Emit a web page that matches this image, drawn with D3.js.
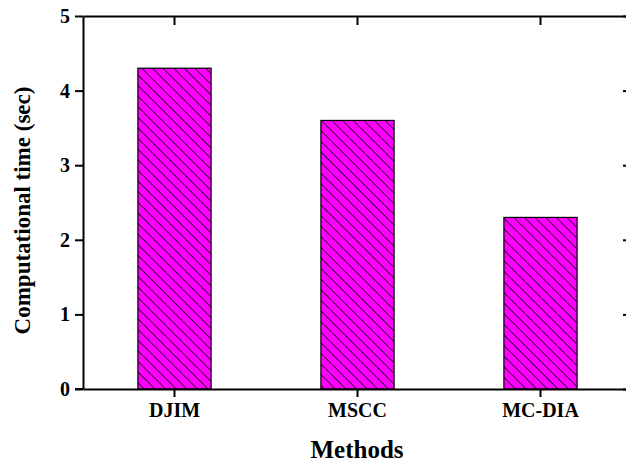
<!DOCTYPE html>
<html><head><meta charset="utf-8">
<script src="https://cdn.jsdelivr.net/npm/d3@7/dist/d3.min.js"></script>
<style>body{margin:0;background:#fff}svg{display:block}</style>
</head><body>
<script>
const categories = ["DJIM", "MSCC", "MC-DIA"];
const values = [4.3, 3.6, 2.3];
const yTicks = [0, 1, 2, 3, 4, 5];
const xTitle = "Methods";
const yTitle = "Computational time (sec)";

const W = 626, H = 465;
const m = {left: 83, top: 16, right: 632, bottom: 389};
const svg = d3.select("body").append("svg").attr("width", W).attr("height", H);

const defs = svg.append("defs");
const pat = defs.append("pattern").attr("id", "hatch").attr("patternUnits", "userSpaceOnUse")
  .attr("width", 7.5).attr("height", 7.5).attr("patternTransform", "rotate(45)");
pat.append("rect").attr("width", 7.5).attr("height", 7.5).attr("fill", "#ff00ff");
pat.append("line").attr("x1", 0).attr("y1", 0).attr("x2", 7.5).attr("y2", 0).attr("stroke", "#000").attr("stroke-width", 1.5);

const x = d3.scaleBand().domain(categories).range([m.left, m.right]).paddingInner(0.6).paddingOuter(0.3);
const y = d3.scaleLinear().domain([0, 5]).range([m.bottom, m.top]);

svg.selectAll("rect.bar").data(categories).enter().append("rect").attr("class", "bar")
  .attr("x", d => x(d)).attr("width", x.bandwidth())
  .attr("y", (d, i) => y(values[i])).attr("height", (d, i) => y(0) - y(values[i]))
  .attr("fill", "url(#hatch)").attr("stroke", "#000").attr("stroke-width", 1.2);

const font = "'Liberation Serif','Times New Roman',serif";
const style = g => {
  g.selectAll("path.domain").attr("stroke", "#000").attr("stroke-width", 2);
  g.selectAll(".tick line").attr("stroke", "#000").attr("stroke-width", 2);
  g.selectAll("text").attr("font-family", font).attr("font-weight", "bold").attr("font-size", 20).attr("fill", "#000");
};

svg.append("g").attr("transform", `translate(${m.left},0)`)
  .call(d3.axisLeft(y).tickValues(yTicks).tickFormat(d3.format("d")).tickSize(8).tickSizeOuter(0).tickPadding(5)).call(style);
svg.append("g").attr("transform", `translate(${m.right},0)`)
  .call(d3.axisRight(y).tickValues(yTicks).tickSize(-9).tickSizeOuter(0).tickFormat("")).call(style);
svg.append("g").attr("transform", `translate(0,${m.bottom})`)
  .call(d3.axisBottom(x).tickSize(8).tickSizeOuter(0).tickPadding(6)).call(style);
svg.append("g").attr("transform", `translate(0,${m.top})`)
  .call(d3.axisTop(x).tickSize(-9).tickSizeOuter(0).tickFormat("")).call(style);
svg.append("line").attr("x1", m.left - 8).attr("x2", m.left).attr("y1", m.bottom).attr("y2", m.bottom).attr("stroke", "#000").attr("stroke-width", 2);

svg.append("text").attr("x", 357).attr("y", 458).attr("text-anchor", "middle")
  .attr("font-family", font).attr("font-weight", "bold").attr("font-size", 25).text(xTitle);
svg.append("text").attr("transform", `translate(30,${(m.top + m.bottom) / 2 + 8}) rotate(-90)`).attr("text-anchor", "middle")
  .attr("font-family", font).attr("font-weight", "bold").attr("font-size", 23).text(yTitle);
</script>
</body></html>
